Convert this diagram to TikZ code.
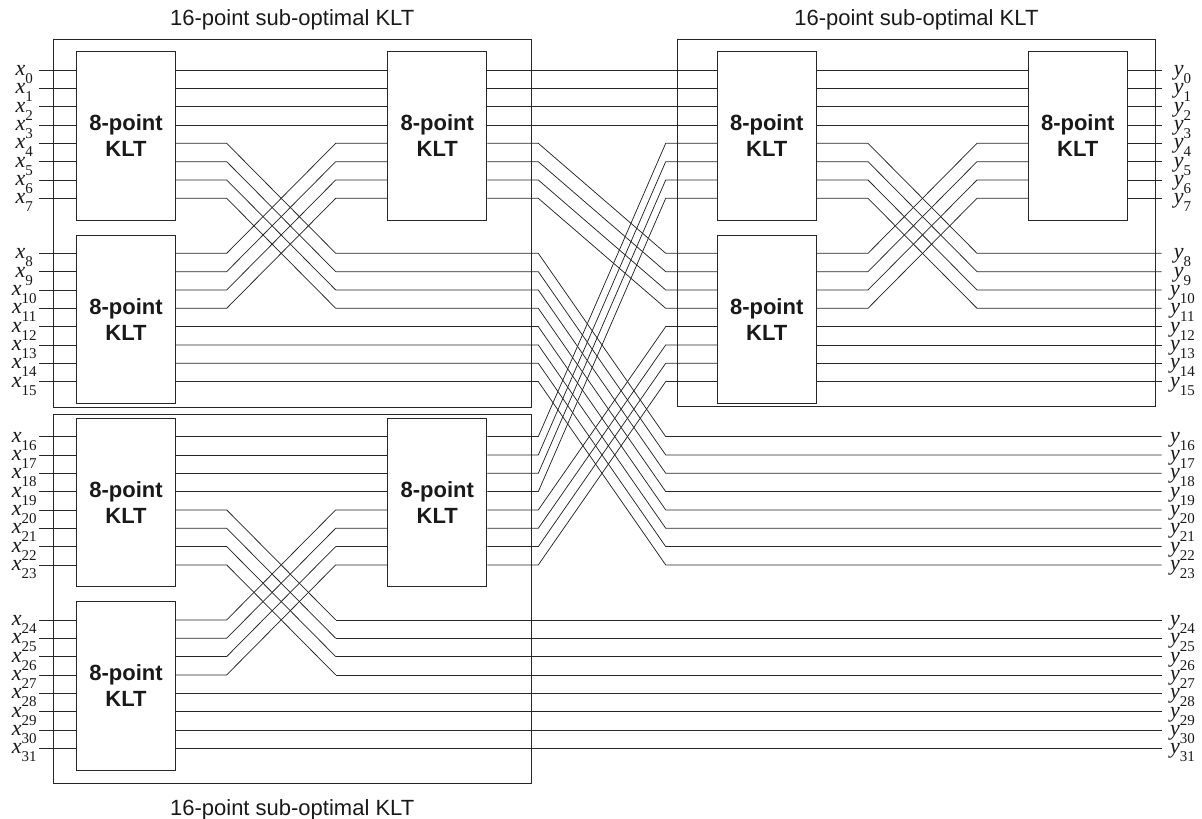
\documentclass[tikz,border=0pt]{standalone}
\usepackage{fontspec}
\setmainfont{Liberation Sans}
\newfontfamily\tms{Liberation Serif}
\begin{document}
\begin{tikzpicture}[x=1pt,y=-1pt,
  wire/.style={line width=0.75pt, draw=black!85},
  kltbox/.style={draw=black!85, line width=0.9pt, fill=white, minimum width=99pt, minimum height=168.4pt, inner sep=0pt, align=center, font=\fontsize{22}{26}\selectfont\bfseries, text=black!90},
  outerbox/.style={draw=black!85, line width=0.9pt, inner sep=0pt},
  title/.style={font=\fontsize{22}{26}\selectfont, anchor=base, text=black!90, inner sep=0pt},
  lab/.style={anchor=base, inner sep=0pt, font=\tms\fontsize{22}{22}\selectfont, text=black!90}
]
\useasboundingbox (0,0) rectangle (1202,819);

% row coordinates and labels
\foreach \k in {0,...,31}{
  \pgfmathsetmacro\yy{70+18.33*(\k+2*floor(\k/8))}
  \coordinate (r\k) at (0,\yy);
  \node[lab] (xl\k) at (24.2,\yy+5.5) {\textit{x}\raisebox{-8pt}{\fontsize{15}{15}\selectfont\k}};
  \node[lab] (yl\k) at (1182.5,\yy+5.5) {\textit{y}\raisebox{-8pt}{\fontsize{15}{15}\selectfont\k}};
}

% column coordinates
\coordinate (xin) at (39.3,0);
\coordinate (T1) at (226.7,0);
\coordinate (T2) at (335.7,0);
\coordinate (M1) at (538.3,0);
\coordinate (M2) at (665.7,0);
\coordinate (T3) at (868,0);
\coordinate (T4) at (977,0);
\coordinate (xout) at (1161.7,0);

% outer 16-point boxes
\node[outerbox, minimum width=477.7pt, minimum height=368.3pt] (L1) at (292.15,223.15) {};
\node[outerbox, minimum width=477.7pt, minimum height=369pt] (L2) at (292.15,598.8) {};
\node[outerbox, minimum width=477.3pt, minimum height=367.7pt] (R1) at (916.35,222.85) {};

% titles
\node[title] (t1) at (292.2,25.5) {16-point sub-optimal KLT};
\node[title] (t2) at (916.4,25.5) {16-point sub-optimal KLT};
\node[title] (t3) at (292.2,815) {16-point sub-optimal KLT};

% 8-point KLT boxes
\node[kltbox] (A0) at (126,136) {8-point\\KLT};
\node[kltbox] (A1) at (126,319.3) {8-point\\KLT};
\node[kltbox] (A2) at (126,502.6) {8-point\\KLT};
\node[kltbox] (A3) at (126,685.9) {8-point\\KLT};
\node[kltbox] (B0) at (437.3,136) {8-point\\KLT};
\node[kltbox] (B2) at (437.3,502.6) {8-point\\KLT};
\node[kltbox] (C0) at (766.7,136) {8-point\\KLT};
\node[kltbox] (C1) at (766.7,319.3) {8-point\\KLT};
\node[kltbox] (D0) at (1077.7,136) {8-point\\KLT};

% inputs
\foreach \k in {0,...,31}{
  \pgfmathtruncatemacro\g{floor(\k/8)}
  \draw[wire] (xin |- r\k) -- (A\g.west |- r\k);
}

% left 16-point blocks
\foreach \o/\p/\q/\b in {0/0/1/0, 16/2/3/2}{
  \foreach \i in {0,...,3}{
    \pgfmathtruncatemacro\k{\o+\i}
    \draw[wire] (A\p.east |- r\k) -- (B\b.west |- r\k);
  }
  \foreach \i in {4,...,7}{
    \pgfmathtruncatemacro\k{\o+\i}
    \pgfmathtruncatemacro\j{\k+4}
    \draw[wire] (A\p.east |- r\k) -- (T1 |- r\k) -- (T2 |- r\j);
  }
  \foreach \i in {8,...,11}{
    \pgfmathtruncatemacro\k{\o+\i}
    \pgfmathtruncatemacro\j{\k-4}
    \draw[wire] (A\q.east |- r\k) -- (T1 |- r\k) -- (T2 |- r\j) -- (B\b.west |- r\j);
  }
}

% middle butterfly
\foreach \k in {0,...,3}{
  \draw[wire] (B0.east |- r\k) -- (C0.west |- r\k);
}
\foreach \k in {4,...,7}{
  \pgfmathtruncatemacro\j{\k+4}
  \draw[wire] (B0.east |- r\k) -- (M1 |- r\k) -- (M2 |- r\j) -- (C1.west |- r\j);
}
\foreach \k in {8,...,11}{
  \pgfmathtruncatemacro\j{\k+8}
  \draw[wire] (T2 |- r\k) -- (M1 |- r\k) -- (M2 |- r\j) -- (xout |- r\j);
}
\foreach \k in {12,...,15}{
  \pgfmathtruncatemacro\j{\k+8}
  \draw[wire] (A1.east |- r\k) -- (M1 |- r\k) -- (M2 |- r\j) -- (xout |- r\j);
}
\foreach \k in {16,...,19}{
  \pgfmathtruncatemacro\j{\k-12}
  \draw[wire] (B2.east |- r\k) -- (M1 |- r\k) -- (M2 |- r\j) -- (C0.west |- r\j);
}
\foreach \k in {20,...,23}{
  \pgfmathtruncatemacro\j{\k-8}
  \draw[wire] (B2.east |- r\k) -- (M1 |- r\k) -- (M2 |- r\j) -- (C1.west |- r\j);
}
\foreach \k in {24,...,27}{
  \draw[wire] (T2 |- r\k) -- (xout |- r\k);
}
\foreach \k in {28,...,31}{
  \draw[wire] (A3.east |- r\k) -- (xout |- r\k);
}

% right 16-point block
\foreach \k in {0,...,3}{
  \draw[wire] (C0.east |- r\k) -- (D0.west |- r\k);
}
\foreach \k in {4,...,7}{
  \pgfmathtruncatemacro\j{\k+4}
  \draw[wire] (C0.east |- r\k) -- (T3 |- r\k) -- (T4 |- r\j) -- (xout |- r\j);
}
\foreach \k in {8,...,11}{
  \pgfmathtruncatemacro\j{\k-4}
  \draw[wire] (C1.east |- r\k) -- (T3 |- r\k) -- (T4 |- r\j) -- (D0.west |- r\j);
}
\foreach \k in {12,...,15}{
  \draw[wire] (C1.east |- r\k) -- (xout |- r\k);
}
\foreach \k in {0,...,7}{
  \draw[wire] (D0.east |- r\k) -- (xout |- r\k);
}
\end{tikzpicture}
\end{document}
